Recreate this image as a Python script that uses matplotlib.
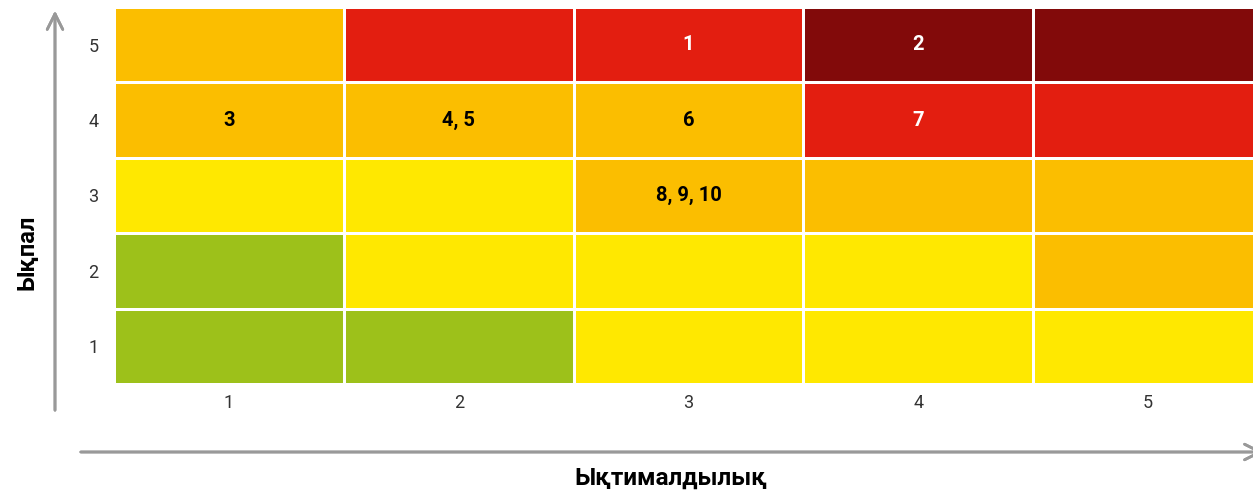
import numpy as np
import matplotlib.pyplot as plt
from matplotlib.colors import ListedColormap

plt.rcParams["font.family"] = ["Roboto", "DejaVu Sans"]

likelihood = [1, 2, 3, 4, 5]
impact = [1, 2, 3, 4, 5]

# risk level per cell: 0 green, 1 yellow, 2 orange, 3 red, 4 dark red
# rows go impact 1 -> 5, columns likelihood 1 -> 5
levels = [
    [0, 0, 1, 1, 1],
    [0, 1, 1, 1, 2],
    [1, 1, 2, 2, 2],
    [2, 2, 2, 3, 3],
    [2, 3, 3, 4, 4],
]
level_colors = ["#9DC11A", "#FFE800", "#FBBE00", "#E31E10", "#820A0A"]

# risk ids placed on the matrix: (likelihood, impact, label)
risk_labels = [
    (3, 5, "1"),
    (4, 5, "2"),
    (1, 4, "3"),
    (2, 4, "4, 5"),
    (3, 4, "6"),
    (4, 4, "7"),
    (3, 3, "8, 9, 10"),
]

fig = plt.figure(figsize=(12.53, 4.95), dpi=100)
W, H = 1253, 495
ax = fig.add_axes([114 / W, (H - 384) / H, (1263 - 114) / W, (384 - 7) / H])

cmap = ListedColormap(level_colors)
ax.pcolormesh(np.arange(0.5, 6), np.arange(0.5, 6), np.array(levels),
              cmap=cmap, vmin=-0.5, vmax=4.5, edgecolors="white", linewidth=2)

for x, y, text in risk_labels:
    lvl = levels[y - 1][x - 1]
    color = "white" if lvl >= 3 else "black"
    ax.text(x, y, text, ha="center", va="center", fontsize=14.5,
            fontweight="bold", color=color)

ax.set_xlim(0.5, 5.5)
ax.set_ylim(0.5, 5.5)
ax.set_xticks(likelihood)
ax.set_yticks(impact)
ax.tick_params(length=0, labelsize=13, labelcolor="#333333", pad=7)
ax.tick_params(axis="y", pad=11)
for s in ax.spines.values():
    s.set_visible(False)

arrow = dict(arrowstyle="->", color="#999999", lw=2, mutation_scale=28)
fig.add_artist(plt.annotate("", xy=(55 / W, (H - 8) / H), xytext=(55 / W, (H - 413) / H),
                            xycoords="figure fraction", arrowprops=arrow))
fig.add_artist(plt.annotate("", xy=(1266 / W, (H - 452) / H), xytext=(78 / W, (H - 452) / H),
                            xycoords="figure fraction", arrowprops=arrow))

fig.text(27 / W, (H - 252) / H, "Ықпал", rotation=90, ha="center", va="center",
         fontsize=17, fontweight="bold")
fig.text(671 / W, (H - 478) / H, "Ықтималдылық", ha="center", va="center",
         fontsize=17.5, fontweight="bold")

fig.savefig("out.png", dpi=100)
